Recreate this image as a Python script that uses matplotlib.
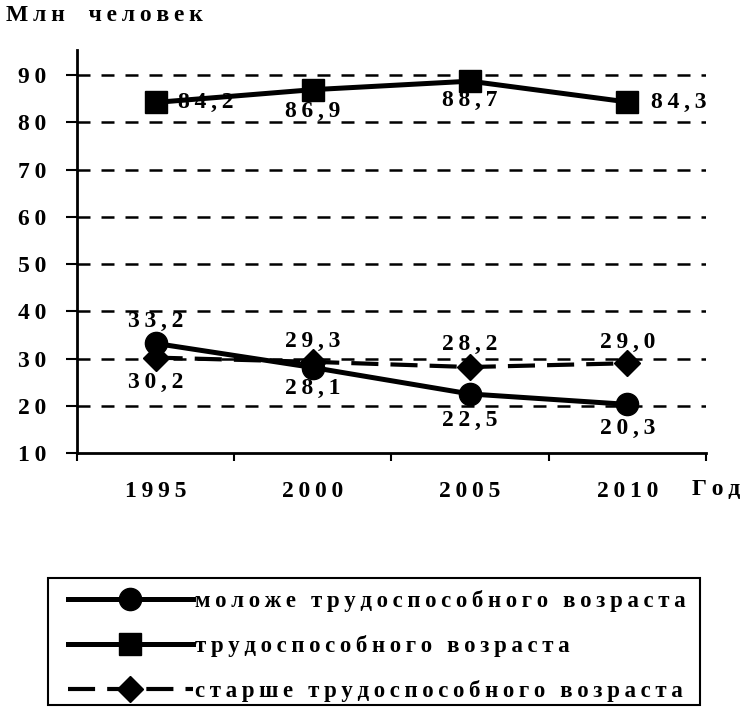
import numpy as np
import matplotlib
matplotlib.use("Agg")
import matplotlib.pyplot as plt
from matplotlib.patches import Rectangle

years = ["1995", "2000", "2005", "2010"]
young = [33.2, 28.1, 22.5, 20.3]
working = [84.2, 86.9, 88.7, 84.3]
older = [30.2, 29.3, 28.2, 29.0]
names = ["моложе трудоспособного возраста",
         "трудоспособного возраста",
         "старше трудоспособного возраста"]
yticks = [10, 20, 30, 40, 50, 60, 70, 80, 90]

plt.rcParams["font.family"] = ["Liberation Serif", "DejaVu Serif"]
plt.rcParams["font.weight"] = "bold"

# разрядка, как в книжном наборе
def sp(s, gap="\u2009"):
    return gap.join(s)

W, H = 747, 714
fig = plt.figure(figsize=(W / 100, H / 100), dpi=100)
ax = fig.add_axes([0.103, 0.3655, 0.842, 0.5645])

x = np.arange(len(years))
l1, = ax.plot(x, young, c="k", lw=3.6, marker="o", ms=16, zorder=5)
l2, = ax.plot(x, working, c="k", lw=3.6, marker="s", ms=16, zorder=5)
l3, = ax.plot(x, older, c="k", lw=3, ls=(0, (6.5, 2.9)), marker="D", ms=13, zorder=4)

for yv in yticks[1:]:
    ax.axhline(yv, c="k", lw=1.8, ls=(0, (5.2, 4.4)), zorder=1)

fs = 17
ax.set_xlim(-0.5, 3.5)
ax.set_ylim(10, 95.3)
ax.set_yticks(yticks)
ax.set_yticklabels([sp(str(v)) for v in yticks], fontsize=fs, fontweight="bold")
ax.set_xticks(np.arange(-0.5, 4, 1))
ax.set_xticklabels([])
ax.set_xticks(x, minor=True)
ax.set_xticklabels([sp(y) for y in years], minor=True, fontsize=fs, fontweight="bold")
ax.tick_params(axis="x", which="major", direction="out", length=6, width=1.5)
ax.tick_params(axis="x", which="minor", length=0, pad=20)
ax.tick_params(axis="y", direction="out", length=8, width=1.5, pad=14)
for s in ["top", "right"]:
    ax.spines[s].set_visible(False)
for s in ["left", "bottom"]:
    ax.spines[s].set_linewidth(2)

def lab(xi, yv, dx, dy, ha="center"):
    ax.annotate(sp(f"{yv:.1f}".replace(".", ",")), (xi, yv), xytext=(dx, dy),
                textcoords="offset points", ha=ha, va="center",
                fontsize=fs, fontweight="bold", zorder=6)

# моложе
lab(0, young[0], 0, 16)
lab(1, young[1], 0, -15)
lab(2, young[2], 0, -19)
lab(3, young[3], 0, -17)
# трудоспособного
lab(0, working[0], 16, 0, "left")
lab(1, working[1], 0, -16)
lab(2, working[2], 0, -14)
lab(3, working[3], 17, 0, "left")
# старше
lab(0, older[0], 0, -18)
lab(1, older[1], 0, 15)
lab(2, older[2], 0, 16)
lab(3, older[3], 0, 15)

fig.text(0.008, 0.978, sp("Млн") + "\u2003" + sp("человек"), fontsize=fs,
         fontweight="bold", va="center")
fig.text(0.991, 0.314, sp("Год"), fontsize=fs, fontweight="bold", va="center",
         ha="right")

# рамка легенды отдельно, чтобы отступы были как в оригинале
fig.add_artist(Rectangle((48 / W, 1 - 705 / H), 652 / W, 127 / H,
                         transform=fig.transFigure, fill=False, ec="k", lw=1.5))
fig.legend([l1, l2, l3], [sp(n) for n in names], loc="center left",
           bbox_to_anchor=(68 / W, 1 - 646 / H), bbox_transform=fig.transFigure,
           frameon=False, handlelength=5.45, handletextpad=0.1,
           labelspacing=1.0, borderpad=0, borderaxespad=0,
           prop={"size": 16.5, "weight": "bold"})

fig.savefig("out.png", dpi=100)
